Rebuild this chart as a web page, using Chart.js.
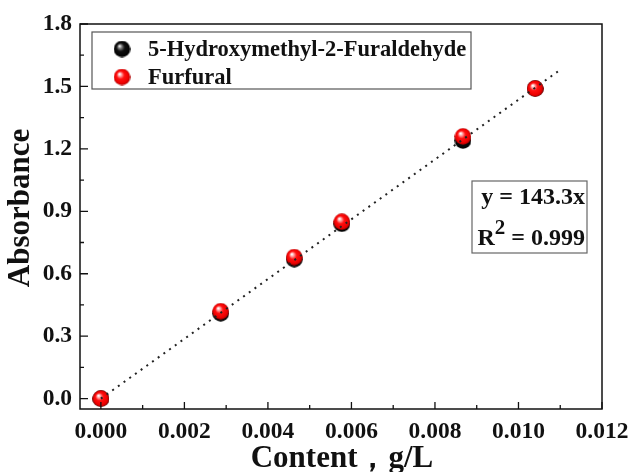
<!DOCTYPE html>
<html><head><meta charset="utf-8">
<script src="https://cdn.jsdelivr.net/npm/chart.js@4"></script>
<style>html,body{margin:0;padding:0;background:#fff;}#wrap{width:631px;height:472px;}</style>
</head><body><div id="wrap"><canvas id="c" width="631" height="472"></canvas></div>
<script>
const contentX = [0, 0.00287, 0.00463, 0.00577, 0.00867, 0.0104];
const hmfY = [0, 0.41, 0.67, 0.84, 1.24, 1.49];
const furfuralY = [0, 0.42, 0.68, 0.85, 1.26, 1.49];
const fitX = [0, 0.011];
const fitY = [0, 1.58];
const xTicks = [0, 0.002, 0.004, 0.006, 0.008, 0.010, 0.012];
const yTicks = [0, 0.3, 0.6, 0.9, 1.2, 1.5, 1.8];
const seriesNames = ['5-Hydroxymethyl-2-Furaldehyde', 'Furfural'];
const eqLine = 'y = 143.3x';
const r2Value = '0.999';

const SERIF = '"Liberation Serif", "Times New Roman", serif';

function ball(stops) {
  const c = document.createElement('canvas');
  c.width = 17; c.height = 17;
  const g = c.getContext('2d');
  const grad = g.createRadialGradient(6, 5.5, 0.5, 8.5, 8.5, 8.5);
  stops.forEach(s => grad.addColorStop(s[0], s[1]));
  g.fillStyle = grad;
  g.beginPath(); g.arc(8.5, 8.5, 8.3, 0, Math.PI * 2); g.fill();
  return c;
}
const redBall = ball([[0, '#ffffff'], [0.18, '#ff9a9a'], [0.42, '#ff1010'], [0.8, '#ee0000'], [1, '#a00000']]);
const blackBall = ball([[0, '#f0f0f0'], [0.18, '#808080'], [0.45, '#101010'], [1, '#000000']]);

const pts = (xs, ys) => xs.map((x, i) => ({ x: x, y: ys[i] }));

const frameAndTicks = {
  id: 'frameAndTicks',
  afterDatasetsDraw(chart) {
    const { ctx, chartArea: a, scales: { x, y } } = chart;
    ctx.save();
    ctx.strokeStyle = '#111';
    ctx.lineWidth = 1.5;
    ctx.strokeRect(a.left, a.top, a.right - a.left, a.bottom - a.top);
    ctx.lineWidth = 1.3;
    ctx.beginPath();
    for (let i = 0; i < xTicks.length; i++) {
      const px = x.getPixelForValue(xTicks[i]);
      ctx.moveTo(px, a.bottom); ctx.lineTo(px, a.bottom - 7);
      if (i < xTicks.length - 1) {
        const pm = x.getPixelForValue((xTicks[i] + xTicks[i + 1]) / 2);
        ctx.moveTo(pm, a.bottom); ctx.lineTo(pm, a.bottom - 4);
      }
    }
    for (let i = 0; i < yTicks.length; i++) {
      const py = y.getPixelForValue(yTicks[i]);
      ctx.moveTo(a.left, py); ctx.lineTo(a.left + 8, py);
      if (i < yTicks.length - 1) {
        const pm = y.getPixelForValue((yTicks[i] + yTicks[i + 1]) / 2);
        ctx.moveTo(a.left, pm); ctx.lineTo(a.left + 4, pm);
      }
    }
    ctx.stroke();

    // legend box
    const lx = a.left + 12, ly = a.top + 8, lw = 379, lh = 57;
    ctx.strokeStyle = '#555'; ctx.lineWidth = 1.2;
    ctx.strokeRect(lx, ly, lw, lh);
    ctx.fillStyle = '#111';
    ctx.font = 'bold 22.5px ' + SERIF;
    ctx.textBaseline = 'middle'; ctx.textAlign = 'left';
    const balls = [blackBall, redBall];
    seriesNames.forEach((n, i) => {
      const cy = ly + 17 + i * 28;
      ctx.drawImage(balls[i], lx + 30 - 8.5, cy - 8.5);
      ctx.fillText(n, lx + 56, cy + 1);
    });

    // equation box
    const bx = 472, by = 181, bw = 115, bh = 72;
    ctx.strokeStyle = '#666'; ctx.lineWidth = 1.2;
    ctx.strokeRect(bx, by, bw, bh);
    ctx.font = 'bold 24px ' + SERIF;
    ctx.textBaseline = 'alphabetic'; ctx.textAlign = 'right';
    ctx.fillText(eqLine, 585, 204);
    const rest = ' = ' + r2Value;
    const wRest = ctx.measureText(rest).width;
    ctx.fillText(rest, 585, 245);
    ctx.font = 'bold 21px ' + SERIF;
    const w2 = ctx.measureText('2').width;
    ctx.fillText('2', 585 - wRest, 234);
    ctx.font = 'bold 24px ' + SERIF;
    ctx.fillText('R', 585 - wRest - w2, 245);

    // axis titles
    ctx.font = 'bold 31px ' + SERIF;
    ctx.textAlign = 'center'; ctx.textBaseline = 'alphabetic';
    ctx.fillText('Content，g/L', (a.left + a.right) / 2 + 1, 467);
    ctx.save();
    ctx.translate(29, 208);
    ctx.rotate(-Math.PI / 2);
    ctx.fillText('Absorbance', 0, 0);
    ctx.restore();
    ctx.restore();
  }
};

new Chart(document.getElementById('c'), {
  type: 'scatter',
  data: {
    datasets: [
      { label: 'fit', type: 'line', data: pts(fitX, fitY), borderColor: '#222', borderWidth: 2,
        borderDash: [2, 5], pointRadius: 0, fill: false, order: 0 },
      { label: seriesNames[1], data: pts(contentX, furfuralY), pointStyle: redBall, pointRadius: 8, order: 1 },
      { label: seriesNames[0], data: pts(contentX, hmfY), pointStyle: blackBall, pointRadius: 8, order: 2 }
    ]
  },
  options: {
    responsive: false,
    animation: false,
    layout: { padding: { top: 24, right: 29, left: 0, bottom: 0 } },
    plugins: { legend: { display: false }, tooltip: { enabled: false } },
    scales: {
      x: {
        type: 'linear', min: -0.0005, max: 0.012,
        afterBuildTicks: s => { s.ticks = xTicks.map(v => ({ value: v })); },
        afterFit: s => { s.height = 63; s.paddingLeft = 0; s.paddingRight = 0; },
        grid: { display: false, drawTicks: false },
        border: { display: false },
        ticks: { padding: 9, color: '#111', font: { family: SERIF, size: 23.5, weight: 'bold' },
          callback: v => Number(v).toFixed(3), maxRotation: 0, autoSkip: false }
      },
      y: {
        type: 'linear', min: -0.05, max: 1.8,
        afterBuildTicks: s => { s.ticks = yTicks.map(v => ({ value: v })); },
        afterFit: s => { s.width = 80; s.paddingTop = 0; s.paddingBottom = 0; },
        grid: { display: false, drawTicks: false },
        border: { display: false },
        ticks: { padding: 8, color: '#111', font: { family: SERIF, size: 23.5, weight: 'bold' },
          callback: v => Number(v).toFixed(1), autoSkip: false }
      }
    }
  },
  plugins: [frameAndTicks]
});
</script></body></html>
